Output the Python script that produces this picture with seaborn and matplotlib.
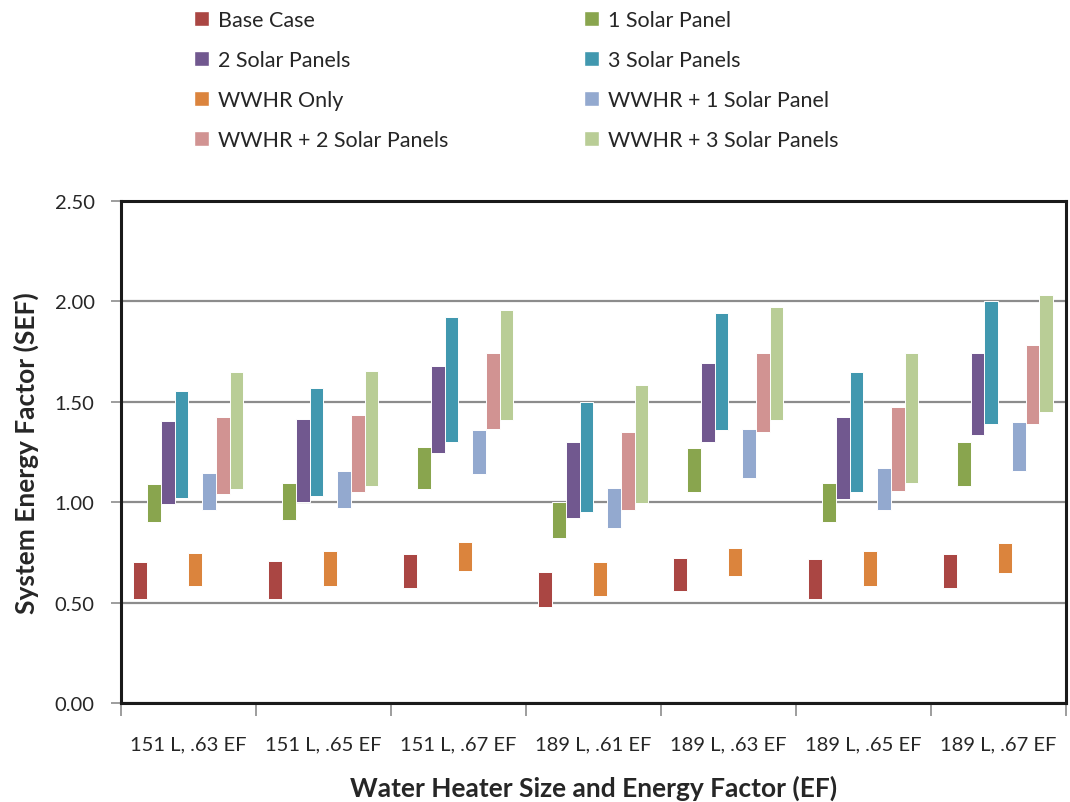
import pandas as pd
import matplotlib.pyplot as plt
import seaborn as sns
from matplotlib.patches import Patch
from matplotlib.ticker import FormatStrFormatter, FixedLocator

categories = ['151 L, .63 EF', '151 L, .65 EF', '151 L, .67 EF', '189 L, .61 EF',
              '189 L, .63 EF', '189 L, .65 EF', '189 L, .67 EF']
series = ['Base Case', '1 Solar Panel', '2 Solar Panels', '3 Solar Panels',
          'WWHR Only', 'WWHR + 1 Solar Panel', 'WWHR + 2 Solar Panels', 'WWHR + 3 Solar Panels']
colors = ['#AA4643', '#89A54E', '#71588F', '#4198AF',
          '#DB843D', '#93A9CF', '#D19392', '#B9CD96']

# low / high SEF for each series, one value per category
low = {
    'Base Case':             [0.52, 0.52, 0.575, 0.48, 0.56, 0.52, 0.575],
    '1 Solar Panel':         [0.90, 0.91, 1.065, 0.82, 1.05, 0.90, 1.08],
    '2 Solar Panels':        [0.99, 1.00, 1.245, 0.92, 1.30, 1.015, 1.335],
    '3 Solar Panels':        [1.02, 1.03, 1.30, 0.95, 1.36, 1.05, 1.39],
    'WWHR Only':             [0.585, 0.585, 0.66, 0.535, 0.635, 0.585, 0.65],
    'WWHR + 1 Solar Panel':  [0.96, 0.97, 1.14, 0.87, 1.12, 0.96, 1.155],
    'WWHR + 2 Solar Panels': [1.04, 1.05, 1.365, 0.96, 1.35, 1.055, 1.39],
    'WWHR + 3 Solar Panels': [1.065, 1.08, 1.41, 0.995, 1.41, 1.095, 1.45],
}
high = {
    'Base Case':             [0.70, 0.705, 0.74, 0.655, 0.72, 0.715, 0.74],
    '1 Solar Panel':         [1.09, 1.095, 1.275, 1.00, 1.27, 1.095, 1.30],
    '2 Solar Panels':        [1.405, 1.415, 1.675, 1.30, 1.69, 1.425, 1.74],
    '3 Solar Panels':        [1.555, 1.57, 1.92, 1.50, 1.94, 1.645, 2.00],
    'WWHR Only':             [0.745, 0.755, 0.80, 0.70, 0.77, 0.755, 0.795],
    'WWHR + 1 Solar Panel':  [1.145, 1.155, 1.36, 1.07, 1.365, 1.17, 1.40],
    'WWHR + 2 Solar Panels': [1.425, 1.435, 1.74, 1.35, 1.74, 1.475, 1.78],
    'WWHR + 3 Solar Panels': [1.645, 1.65, 1.955, 1.585, 1.97, 1.74, 2.03],
}

rows = []
for s in series:
    for c, lo, hi in zip(categories, low[s], high[s]):
        rows.append({'category': c, 'series': s, 'low': lo, 'span': hi - lo})
df = pd.DataFrame(rows)

sns.set_style("white")
plt.rcParams['font.family'] = ['Lato', 'DejaVu Sans']

fig = plt.figure(figsize=(10.7, 8.03), dpi=100)
ax = fig.add_axes([0.113, 0.123, 0.883, 0.626])

sns.barplot(data=df, x='category', y='span', hue='series', order=categories,
            hue_order=series, palette=colors, width=0.815, dodge=True,
            errorbar=None, edgecolor='white', linewidth=0.7, legend=False,
            saturation=1, ax=ax)

# floating bars: move each bar up to its low value
for container, s in zip(ax.containers, series):
    for bar, lo in zip(container, low[s]):
        bar.set_y(lo)

ax.set_ylim(0, 2.5)
ax.set_xlim(-0.5, len(categories) - 0.5)
ax.set_yticks([0, 0.5, 1.0, 1.5, 2.0, 2.5])
ax.yaxis.set_major_formatter(FormatStrFormatter('%.2f'))
ax.yaxis.grid(True, color='#8c8c8c', linewidth=1.6)
ax.set_axisbelow(True)

# category boundaries as ticks, labels at centers
ax.xaxis.set_major_locator(FixedLocator([i - 0.5 for i in range(len(categories) + 1)]))
ax.xaxis.set_minor_locator(FixedLocator(list(range(len(categories)))))
ax.set_xticklabels([''] * (len(categories) + 1))
ax.set_xticklabels(categories, minor=True)
ax.tick_params(axis='x', which='major', direction='out', length=9, width=1.2,
               color='#8c8c8c', bottom=True)
ax.tick_params(axis='x', which='minor', length=0, pad=23, labelsize=14.5)
ax.tick_params(axis='y', direction='out', length=7, width=1.2, color='#8c8c8c',
               left=True, labelsize=14.5, pad=12)

for sp in ax.spines.values():
    sp.set_visible(True)
    sp.set_color('#1a1a1a')
    sp.set_linewidth(2.2)

ax.set_xlabel('Water Heater Size and Energy Factor (EF)', fontweight='bold', fontsize=19)
ax.xaxis.label.set_va('center')
ax.xaxis.set_label_coords(0.5, (704 - 788) / 502.6)
ax.set_ylabel('System Energy Factor (SEF)', fontweight='bold', fontsize=19)
ax.yaxis.label.set_va('center')
ax.yaxis.set_label_coords((26 - 121) / 944.8, 0.5)

handles = [Patch(facecolor=c, edgecolor='white', label=s) for s, c in zip(series, colors)]
leg_kw = dict(frameon=False, fontsize=15.5, handlelength=0.7, handleheight=0.7,
              handletextpad=0.45, labelspacing=0.93, loc='upper left', borderaxespad=0)
fig.legend(handles=handles[0::2], bbox_to_anchor=(185 / 1070, 1 - 2 / 803), **leg_kw)
fig.legend(handles=handles[1::2], bbox_to_anchor=(575 / 1070, 1 - 2 / 803), **leg_kw)

plt.savefig('out.png', dpi=100)
